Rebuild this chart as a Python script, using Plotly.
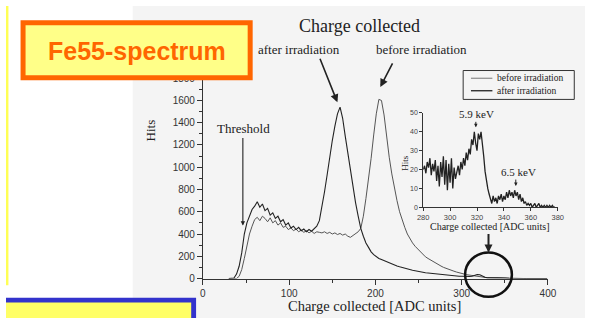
import plotly.graph_objects as go

W, H = 594, 324

# ---- data ----
adc_main = list(range(30, 402, 3))
hits_after = [
    0, 0, 5, 40, 110, 230, 400, 500, 570, 620,
    650, 690, 640, 670, 610, 630, 570, 590, 540, 560,
    510, 530, 480, 500, 455, 470, 440, 460, 430, 445,
    420, 440, 425, 445, 470, 520, 640, 780, 930, 1100,
    1240, 1370, 1480, 1540, 1440, 1280, 1130, 960, 840, 680,
    560, 450, 380, 320, 280, 240, 215, 195, 180, 170,
    160, 150, 135, 128, 118, 112, 105, 98, 90, 84,
    80, 74, 70, 64, 60, 57, 52, 50, 47, 44,
    42, 38, 36, 33, 30, 27, 26, 24, 22, 20,
    20, 18, 17, 18, 20, 26, 36, 34, 22, 12,
    6, 4, 5, 6, 7, 8, 6, 5, 3, 2,
    1, 1, 1, 0, 1, 0, 0, 0, 0, 0,
    0, 0, 0, 0,
]
hits_before = [
    0, 0, 0, 0, 20, 80, 180, 300, 400, 470,
    530, 550, 520, 560, 540, 510, 545, 500, 520, 480,
    500, 460, 470, 440, 455, 430, 445, 420, 435, 415,
    430, 410, 425, 405, 420, 415, 410, 420, 405, 415,
    400, 410, 395, 405, 390, 400, 380, 370, 385, 400,
    420, 450, 560, 720, 880, 1080, 1290, 1480, 1610, 1600,
    1470, 1260, 1090, 940, 800, 700, 600, 520, 460, 400,
    355, 320, 290, 265, 240, 215, 195, 180, 165, 150,
    138, 125, 112, 100, 90, 82, 75, 66, 58, 50,
    45, 40, 34, 30, 25, 22, 18, 15, 12, 10,
    8, 7, 6, 5, 4, 4, 3, 3, 2, 2,
    2, 1, 1, 1, 0, 0, 0, 0, 0, 0,
    0, 0, 0, 0,
]
adc_inset = list(range(280, 379))
hits_inset = [
    20, 22, 18, 24, 21, 26, 17, 23, 19, 25,
    14, 22, 11, 24, 16, 27, 12, 25, 9, 23,
    13, 26, 10, 21, 15, 18, 22, 17, 24, 20,
    26, 22, 29, 25, 31, 28, 36, 33, 40, 34,
    30, 39, 36, 40, 31, 27, 19, 14, 10, 7,
    4, 2, 6, 3, 5, 2, 6, 4, 7, 3,
    6, 4, 8, 5, 9, 6, 8, 5, 9, 6,
    8, 4, 7, 3, 5, 2, 3, 1, 2, 1,
    2, 0, 1, 2, 0, 1, 2, 0, 1, 0,
    1, 0, 1, 0, 1, 0, 1, 0, 0,
]
main_xticks = [0, 100, 200, 300, 400]
main_yticks = [0, 200, 400, 600, 800, 1000, 1200, 1400, 1600, 1800]
inset_xticks = [280, 300, 320, 340, 360, 380]
inset_yticks = [0, 10, 20, 30, 40, 50]

n = min(len(adc_main), len(hits_after), len(hits_before))
adc_main = adc_main[:n]
hits_after = hits_after[:n]
hits_before = hits_before[:n]
m = min(len(adc_inset), len(hits_inset))


def P(px):
    """page pixel x -> paper fraction (kept inside the figure)"""
    return min(1.0, max(0.0, px / W))


def Q(py):
    """page pixel y -> paper fraction (kept inside the figure)"""
    return min(1.0, max(0.0, 1 - py / H))


SERIF = "Liberation Serif"
SANS = "Liberation Sans"

fig = go.Figure()
fig.add_trace(go.Scatter(x=adc_main, y=hits_before, mode="lines",
                         line=dict(color="#555555", width=1), name="before irradiation",
                         xaxis="x", yaxis="y"))
fig.add_trace(go.Scatter(x=adc_main, y=hits_after, mode="lines",
                         line=dict(color="#222222", width=1.1), name="after irradiation",
                         xaxis="x", yaxis="y"))
fig.add_trace(go.Scatter(x=adc_inset[:m], y=hits_inset[:m], mode="lines",
                         line=dict(color="#222222", width=1.3), name="inset",
                         xaxis="x2", yaxis="y2"))

axis_common = dict(showgrid=False, zeroline=False, showline=True, linecolor="#333333",
                   linewidth=1, ticks="outside", tickcolor="#333333")

fig.update_layout(
    width=W, height=H, margin=dict(l=0, r=0, t=0, b=0),
    paper_bgcolor="white", plot_bgcolor="rgba(0,0,0,0)",
    showlegend=False,
    xaxis=dict(domain=[P(202), P(556)], range=[0, 400], tickvals=main_xticks,
               ticklen=5, tickfont=dict(family=SANS, size=10, color="#333333"),
               minor=dict(dtick=50, ticklen=3, ticks="outside", tickcolor="#333333"),
               anchor="y", **axis_common),
    yaxis=dict(domain=[Q(283), Q(75)], range=[0, 1800], tickvals=main_yticks,
               ticklen=5, tickfont=dict(family=SANS, size=10, color="#333333"),
               minor=dict(dtick=100, ticklen=3, ticks="outside", tickcolor="#333333"),
               anchor="x", **axis_common),
    xaxis2=dict(domain=[P(428), P(566)], range=[280, 380], tickvals=inset_xticks,
                ticklen=3, tickfont=dict(family=SANS, size=7.5, color="#444444"),
                anchor="y2", **axis_common),
    yaxis2=dict(domain=[Q(209), Q(111)], range=[0, 50], tickvals=inset_yticks,
                ticklen=3, tickfont=dict(family=SANS, size=7, color="#444444"),
                anchor="x2", **axis_common),
)

shapes = [
    # scanned page background
    dict(type="rect", xref="paper", yref="paper", x0=P(130), x1=1, y0=0, y1=1,
         fillcolor="#f4f4f4", line=dict(width=0), layer="below"),
    # left yellow strip
    dict(type="rect", xref="paper", yref="paper", x0=0, x1=P(2.5), y0=Q(290), y1=1,
         fillcolor="#ffff55", line=dict(width=0), layer="above"),
    # orange title box
    dict(type="rect", xref="paper", yref="paper", x0=P(17.5), x1=P(250.5), y0=Q(74.5), y1=Q(17.5),
         fillcolor="#ffff88", line=dict(color="#ff6600", width=5), layer="above"),
    # blue bottom box (continues below the visible area)
    dict(type="rect", xref="paper", yref="paper", x0=0, x1=P(195), y0=0, y1=Q(303),
         fillcolor="#3333cc", line=dict(width=0), layer="above"),
    dict(type="rect", xref="paper", yref="paper", x0=0, x1=P(190), y0=0, y1=Q(308),
         fillcolor="#ffff66", line=dict(width=0), layer="above"),
    # legend frame
    dict(type="rect", xref="paper", yref="paper", x0=P(469), x1=P(583), y0=Q(97), y1=Q(67),
         fillcolor="rgba(0,0,0,0)", line=dict(color="#333333", width=1), layer="above"),
    dict(type="line", xref="paper", yref="paper", x0=P(477), x1=P(499), y0=Q(75), y1=Q(75),
         line=dict(color="#777777", width=1)),
    dict(type="line", xref="paper", yref="paper", x0=P(477), x1=P(499), y0=Q(88), y1=Q(88),
         line=dict(color="#222222", width=1.3)),
    # highlight circle
    dict(type="circle", xref="paper", yref="paper", x0=P(471), x1=P(519), y0=Q(302), y1=Q(256),
         line=dict(color="#111111", width=2.5), layer="above"),
]
fig.update_layout(shapes=shapes)


def txt(s, x, y, size, family=SERIF, color="#222222", angle=0, anchor="center", bold=False):
    return dict(text=("<b>%s</b>" % s) if bold else s, x=P(x), y=Q(y), xref="paper", yref="paper",
                xanchor=anchor, yanchor="middle", showarrow=False, textangle=angle,
                font=dict(family=family, size=size, color=color))


def arrow(hx, hy, tx, ty, width=1.3, size=1.0, head=2):
    return dict(text="", x=P(hx), y=Q(hy), xref="paper", yref="paper",
                ax=tx - hx, ay=ty - hy, axref="pixel", ayref="pixel",
                showarrow=True, arrowhead=head, arrowsize=size, arrowwidth=width,
                arrowcolor="#222222")


annotations = [
    txt("Fe55-spectrum", 134, 47, 25, family=SANS, color="#ff6600", bold=True),
    txt("Charge collected", 363, 21, 18),
    txt("after irradiation", 301, 45, 13),
    txt("before irradiation", 426, 45, 13),
    txt("Threshold", 244, 127, 13),
    txt("Hits", 148, 129, 13, angle=-90),
    txt("Charge collected [ADC units]", 378, 312, 14.5),
    txt("before irradiation", 502, 75, 9.5, anchor="left"),
    txt("after irradiation", 502, 88, 9.5, anchor="left"),
    txt("5.9 keV", 483, 112, 11),
    txt("6.5 keV", 526, 172, 11),
    txt("Hits", 409, 163, 9, angle=-90),
    txt("Charge collected [ADC units]", 497, 229, 10),
    arrow(340, 100, 322, 55, width=1.6),
    arrow(384, 84, 397, 59, width=1.6),
    arrow(243, 228, 243, 139, width=1.1, size=0.8),
    arrow(482, 126, 482, 119, width=1, size=0.7),
    arrow(523, 187, 523, 179, width=1, size=0.7),
    arrow(495, 256, 495, 236, width=2, size=0.8),
]
fig.update_layout(annotations=annotations)

fig.write_html("out.html", config={"displayModeBar": False})
